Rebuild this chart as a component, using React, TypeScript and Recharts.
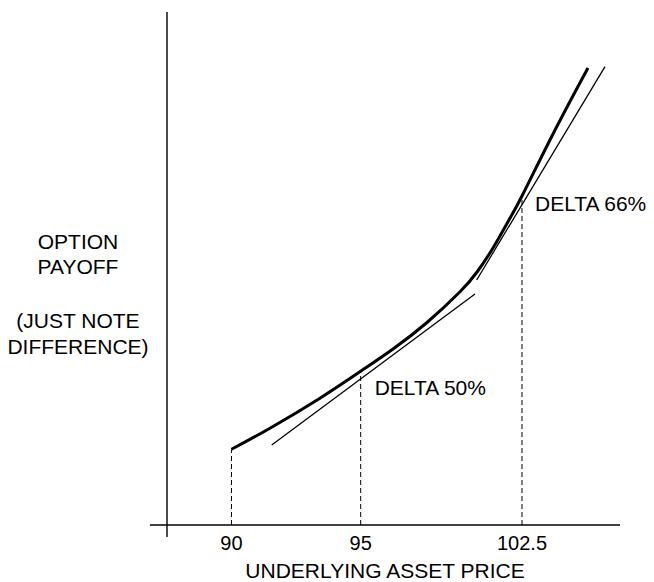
import React from 'react';
import { ComposedChart, Line, XAxis, YAxis, ReferenceLine, ReferenceDot, Label } from 'recharts';

// Schematic price axis position (0-100 units) and payoff (0-100 units)
const priceTickPos = [13.72, 41.21, 75.53];
const priceTickLabels = ['90', '95', '102.5'];

const curveX = [13.72, 21.91, 32.55, 41.21, 48.09, 55.32, 62.34, 65.96, 69.36, 72.55, 75.53, 82.13, 89.57];
const curveY = [14.42, 18.44, 24.15, 29.28, 33.52, 38.57, 44.42, 48.19, 52.76, 57.77, 62.67, 74.48, 87.05];

const delta50X = [22.28, 65.53];
const delta50Y = [15.24, 44.0];
const delta66X = [65.89, 93.19];
const delta66Y = [46.67, 87.3];

const dashTopY = [14.42, 29.28, 62.4];

const deltaLabels = ['DELTA 50%', 'DELTA 66%'];
const deltaLabelY = [26.19, 61.24];
const leftLabelLines = ['OPTION', 'PAYOFF', '(JUST NOTE', 'DIFFERENCE)'];
const xTitle = 'UNDERLYING ASSET PRICE';

const X_DOMAIN: [number, number] = [-3.617, 96.383];
const Y_DOMAIN: [number, number] = [-2.286, 97.714];

const curve = curveX.map((x, i) => ({ x, y: curveY[i] }));
const d50 = delta50X.map((x, i) => ({ x, y: delta50Y[i] }));
const d66 = delta66X.map((x, i) => ({ x, y: delta66Y[i] }));

const FONT = '"Liberation Sans", Arial, Helvetica, sans-serif';

const LeftLabel = (props: any) => {
  const vb = props.viewBox || { x: 0, y: 12, width: 150, height: 525 };
  const offsets = [237, 262, 316, 342];
  return (
    <g>
      {leftLabelLines.map((t, i) => (
        <text
          key={t}
          x={vb.x + 78}
          y={vb.y + offsets[i]}
          textAnchor="middle"
          fontFamily={FONT}
          fontSize={21}
          fill="#000"
        >
          {t}
        </text>
      ))}
    </g>
  );
};

export default function App() {
  return (
    <div style={{ position: 'absolute', left: 0, top: 0, background: '#fff' }}>
      <ComposedChart
        width={654}
        height={582}
        margin={{ top: 12, right: 34, bottom: 0, left: 0 }}
        style={{ fontFamily: FONT }}
      >
        <XAxis
          type="number"
          dataKey="x"
          domain={X_DOMAIN}
          allowDataOverflow
          ticks={priceTickPos}
          tickFormatter={(v: number) => priceTickLabels[priceTickPos.indexOf(v)] ?? ''}
          axisLine={false}
          tickLine={false}
          tickSize={0}
          tickMargin={0}
          height={45}
          interval={0}
          tick={{ fill: '#000', fontSize: 20, fontFamily: FONT, dy: -1 }}
        >
          <Label
            value={xTitle}
            position="insideBottom"
            offset={4}
            fill="#000"
            fontSize={21}
            fontFamily={FONT}
          />
        </XAxis>
        <YAxis
          type="number"
          dataKey="y"
          domain={Y_DOMAIN}
          allowDataOverflow
          width={150}
          axisLine={false}
          tickLine={false}
          tick={false}
        >
          <Label content={<LeftLabel />} />
        </YAxis>

        {/* axes crossing at origin */}
        <ReferenceLine
          segment={[{ x: X_DOMAIN[0], y: 0 }, { x: X_DOMAIN[1], y: 0 }]}
          stroke="#000"
          strokeWidth={1.4}
          ifOverflow="visible"
        />
        <ReferenceLine
          segment={[{ x: 0, y: Y_DOMAIN[0] }, { x: 0, y: Y_DOMAIN[1] }]}
          stroke="#000"
          strokeWidth={1.4}
          ifOverflow="visible"
        />

        {priceTickPos.map((p, i) => (
          <ReferenceLine
            key={'d' + i}
            segment={[{ x: p, y: 0 }, { x: p, y: dashTopY[i] }]}
            stroke="#000"
            strokeWidth={1}
            strokeDasharray="5 3"
            ifOverflow="visible"
          />
        ))}

        <Line
          data={d50}
          dataKey="y"
          type="linear"
          stroke="#000"
          strokeWidth={1.3}
          dot={false}
          activeDot={false}
          isAnimationActive={false}
        />
        <Line
          data={d66}
          dataKey="y"
          type="linear"
          stroke="#000"
          strokeWidth={1.3}
          dot={false}
          activeDot={false}
          isAnimationActive={false}
        />
        <Line
          data={curve}
          dataKey="y"
          type="natural"
          stroke="#000"
          strokeWidth={3}
          dot={false}
          activeDot={false}
          isAnimationActive={false}
        />

        <ReferenceDot
          x={priceTickPos[1]}
          y={deltaLabelY[0]}
          r={0}
          fill="none"
          stroke="none"
          ifOverflow="visible"
        >
          <Label value={deltaLabels[0]} position="right" offset={14} fill="#000" fontSize={21} fontFamily={FONT} />
        </ReferenceDot>
        <ReferenceDot
          x={priceTickPos[2]}
          y={deltaLabelY[1]}
          r={0}
          fill="none"
          stroke="none"
          ifOverflow="visible"
        >
          <Label value={deltaLabels[1]} position="right" offset={13} fill="#000" fontSize={21} fontFamily={FONT} />
        </ReferenceDot>
      </ComposedChart>
    </div>
  );
}
